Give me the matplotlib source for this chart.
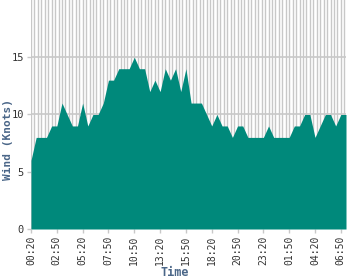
import matplotlib
matplotlib.use("Agg")
import matplotlib.pyplot as plt
import numpy as np

wind = [6, 8, 8, 8, 9, 9, 11, 10, 9, 9,
        11, 9, 10, 10, 11, 13, 13, 14, 14, 14,
        15, 14, 14, 12, 13, 12, 14, 13, 14, 12,
        14, 11, 11, 11, 10, 9, 10, 9, 9, 8,
        9, 9, 8, 8, 8, 8, 9, 8, 8, 8,
        8, 9, 9, 10, 10, 8, 9, 10, 10, 9,
        10, 10]
tick_labels = ["00:20", "02:50", "05:20", "07:50", "10:50", "13:20", "15:50",
               "18:20", "20:50", "23:20", "01:50", "04:20", "06:50"]
y_ticks = [0, 5, 10, 15]

mono = "DejaVu Sans Mono"
fig = plt.figure(figsize=(3.5, 2.8), dpi=100)
ax = fig.add_axes([31 / 350, 1 - 229 / 280, 315 / 350, 229 / 280])

x = np.arange(len(wind))
ax.set_xlim(0, len(wind) - 1)
ax.set_ylim(0, 20)

# thin vertical grid, denser than the data points
for gx in np.arange(0, len(wind), 2 / 3):
    ax.axvline(gx, color="#c8c8c8", lw=1, zorder=0)
for gy in y_ticks[1:]:
    ax.axhline(gy, color="#c8c8c8", lw=1.2, zorder=0)

ax.fill_between(x, 0, wind, color="#00897b", lw=0, zorder=2)

ax.set_xticks(x[::5])
ax.set_xticklabels(tick_labels, rotation=90, fontsize=7, family=mono, color="#333333")
ax.set_yticks(y_ticks)
ax.set_yticklabels([str(v) for v in y_ticks], fontsize=7.5, family=mono, color="#333333")
ax.tick_params(axis="both", length=3, width=1, color="#c8c8c8", pad=2)

for s in ax.spines.values():
    s.set_visible(False)

fig.text(8 / 350, 1 - 140 / 280, "Wind (Knots)", rotation=90, ha="center", va="center",
         fontsize=8, family=mono, fontweight="bold", color="#4a6688")
fig.text(175 / 350, 1 - 272 / 280, "Time", ha="center", va="center",
         fontsize=8.5, family=mono, fontweight="bold", color="#4a6688")

fig.savefig("out.png", dpi=100)
